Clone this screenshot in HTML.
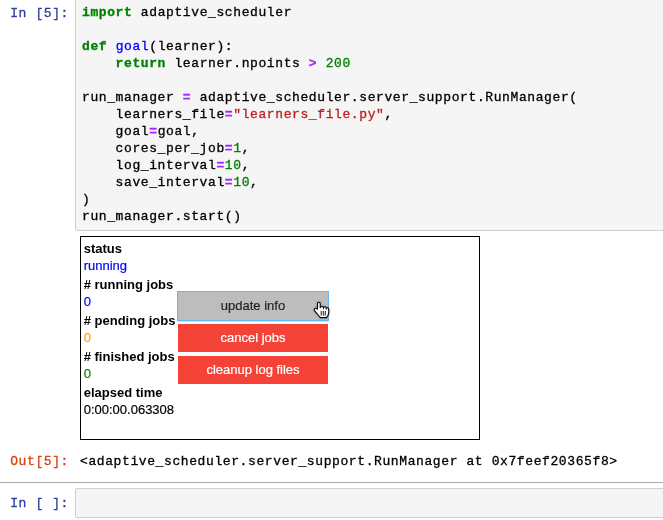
<!DOCTYPE html>
<html><head><meta charset="utf-8">
<style>
html,body{margin:0;padding:0;background:#fff;width:663px;height:520px;overflow:hidden;position:relative}
#wrap{position:absolute;left:0;top:0;width:663px;height:520px;will-change:transform}
.mono{font-family:"Liberation Mono",monospace;font-size:13px;letter-spacing:0.6px;line-height:17px;white-space:pre;-webkit-text-stroke:0.3px currentColor}
.prompt{position:absolute;color:#303F9F;text-align:right}
.inarea{position:absolute;left:75px;top:-10px;width:600px;height:241px;background:#f5f5f5;border:1px solid #cfcfcf;border-radius:2px;box-sizing:border-box}
.code{position:absolute;left:82px;top:4px;color:#000}
.kw{color:#008000;font-weight:bold}
.def{color:#0000ff}
.op{color:#aa22ff;font-weight:bold}
.num{color:#008000}
.str{color:#ba2121}
.outbox{position:absolute;left:80px;top:236px;width:400px;height:204px;border:1px solid #000;box-sizing:border-box}
.sans{font-family:"Liberation Sans",sans-serif;font-size:13px}
.val,.btn{-webkit-text-stroke:0.2px currentColor}
.lbl{position:absolute;left:83.7px;font-weight:bold;color:#000;white-space:nowrap}
.val{position:absolute;left:83.7px;white-space:nowrap}
.btn{position:absolute;left:178px;width:150px;height:28px;box-sizing:border-box;color:#fff;text-align:center;line-height:28px}
.sep{position:absolute;left:0;top:482px;width:663px;height:1px;background:#ababab}
.inarea2{position:absolute;left:75px;top:488px;width:600px;height:30px;background:#f5f5f5;border:1px solid #cfcfcf;border-radius:2px;box-sizing:border-box}
</style></head><body><div id="wrap">
<div class="prompt mono" style="left:0;top:5px;width:69px">In [5]:</div>
<div class="inarea"></div>
<div class="code mono"><span class="kw">import</span> adaptive_scheduler

<span class="kw">def</span> <span class="def">goal</span>(learner):
    <span class="kw">return</span> learner.npoints <span class="op">&gt;</span> <span class="num">200</span>

run_manager <span class="op">=</span> adaptive_scheduler.server_support.RunManager(
    learners_file<span class="op">=</span><span class="str">"learners_file.py"</span>,
    goal<span class="op">=</span>goal,
    cores_per_job<span class="op">=</span><span class="num">1</span>,
    log_interval<span class="op">=</span><span class="num">10</span>,
    save_interval<span class="op">=</span><span class="num">10</span>,
)
run_manager.start()</div>

<div class="outbox"></div>
<div class="sans lbl" style="top:241px">status</div>
<div class="sans val" style="top:258px;color:#0000ff">running</div>
<div class="sans lbl" style="top:277px"># running jobs</div>
<div class="sans val" style="top:294px;color:#0000ff">0</div>
<div class="sans lbl" style="top:313px"># pending jobs</div>
<div class="sans val" style="top:330px;color:#ffa500">0</div>
<div class="sans lbl" style="top:349px"># finished jobs</div>
<div class="sans val" style="top:366px;color:#008000">0</div>
<div class="sans lbl" style="top:385px">elapsed time</div>
<div class="sans val" style="top:402px;color:#000">0:00:00.063308</div>

<div class="sans btn" style="top:292px;background:#bdbdbd;outline:1px solid #64b5f6;box-shadow:0 2px 0 rgba(0,0,0,.12);color:rgba(0,0,0,.8)">update info</div>
<div class="sans btn" style="top:324px;background:#f44336">cancel jobs</div>
<div class="sans btn" style="top:356px;background:#f44336">cleanup log files</div>

<svg style="position:absolute;left:313px;top:301px;filter:drop-shadow(0 0.6px 0.8px rgba(0,0,0,.35))" width="18" height="19" viewBox="0 0 18 19">
<path d="M4.5 8.2 L4.5 2.6 Q4.5 1.3 5.85 1.3 Q7.2 1.3 7.2 2.6 L7.2 6.6 Q7.4 5.5 8.85 5.5 Q10.4 5.5 10.5 6.8 Q10.7 5.8 11.85 5.8 Q13.1 5.8 13.2 7.2 Q13.5 6.6 14.5 6.7 Q15.8 6.9 15.8 8.5 L15.8 11.5 Q15.6 14 13.6 16.6 L7.4 16.6 Q6.6 15.8 6 15 L1.7 9.8 Q0.8 8.6 1.7 7.6 Q2.6 6.8 4.5 8.2 Z" fill="#fff" stroke="#000" stroke-width="1.1" stroke-linejoin="round"/>
<path d="M8.2 9.9 V14.6 M10.3 9.9 V14.6 M12.3 9.9 V14.6 M10.5 6.8 V8.2 M13.2 7.2 V8.6" stroke="#000" stroke-width="0.9"/>
</svg>
<div class="prompt mono" style="left:0;top:453px;width:69px;color:#D84315">Out[5]:</div>
<div class="mono" style="position:absolute;left:80px;top:453px;color:#000">&lt;adaptive_scheduler.server_support.RunManager at 0x7feef20365f8&gt;</div>
<div class="sep"></div>
<div class="prompt mono" style="left:0;top:495px;width:69px">In [ ]:</div>
<div class="inarea2"></div>
</div></body></html>
